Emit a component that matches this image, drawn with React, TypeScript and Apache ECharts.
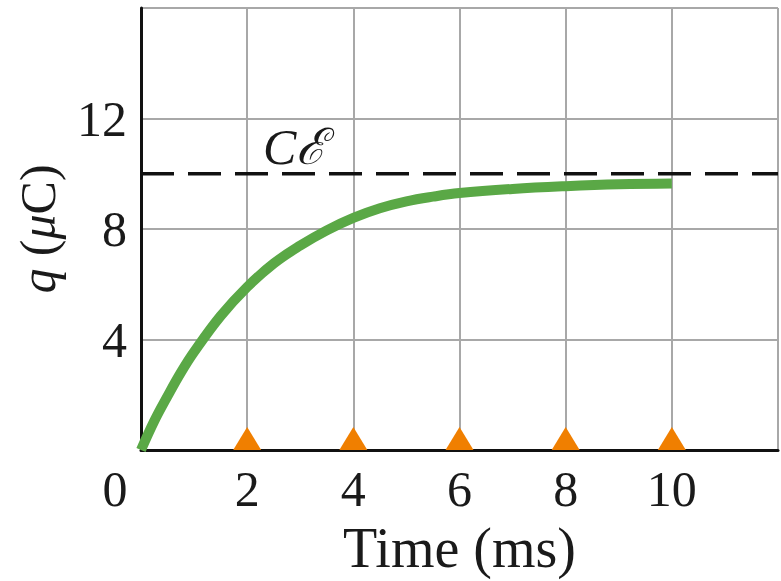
import React, { useEffect, useRef } from "react";
import * as echarts from "echarts";

const timeMs = [0, 0.25, 0.5, 0.75, 1, 1.5, 2, 2.5, 3, 3.5, 4, 4.5, 5, 5.5, 6, 7, 8, 9, 10];
const chargeUC = [0, 1.05, 1.95, 2.8, 3.55, 4.85, 5.9, 6.75, 7.4, 7.95, 8.4, 8.75, 9.0, 9.17, 9.3, 9.45, 9.55, 9.62, 9.65];
const limitLine = [[0, 10], [12, 10]];
const markerTimes = [2, 4, 6, 8, 10];
const xTicks = [0, 2, 4, 6, 8, 10];
const yTicks = [4, 8, 12];

const SERIF = "'Liberation Serif', 'DejaVu Serif', serif";

export default function App() {
  const ref = useRef<HTMLDivElement>(null);
  useEffect(() => {
    if (!ref.current) return;
    const chart = echarts.init(ref.current, undefined, { renderer: "svg" });
    chart.setOption({
      animation: false,
      backgroundColor: "#ffffff",
      grid: { left: 141, right: -4, top: 8, bottom: 126, containLabel: false },
      xAxis: {
        type: "value",
        min: 0,
        max: 12,
        interval: 2,
        name: "Time (ms)",
        nameLocation: "middle",
        nameGap: 70,
        nameTextStyle: { fontFamily: SERIF, fontSize: 56, color: "#1a1a1a" },
        axisLine: { show: true, lineStyle: { color: "#111", width: 3 } },
        axisTick: { show: false },
        splitLine: { show: true, lineStyle: { color: "#a8a8a8", width: 2 } },
        axisLabel: {
          margin: 14,
          fontFamily: SERIF,
          fontSize: 50,
          color: "#1a1a1a",
          formatter: (v: number) => {
            if (!xTicks.includes(v)) return "";
            if (v === 0) return "{z|0}";
            return String(v);
          },
          rich: { z: { fontFamily: SERIF, fontSize: 50, color: "#1a1a1a", padding: [0, 52, 0, 0] } },
        },
      },
      yAxis: {
        type: "value",
        min: 0,
        max: 16,
        interval: 4,
        name: "{i|q} ({i|μ}C)",
        nameLocation: "middle",
        nameRotate: 90,
        nameGap: 78,
        nameTextStyle: {
          fontFamily: SERIF,
          fontSize: 50,
          color: "#1a1a1a",
          rich: { i: { fontFamily: SERIF, fontSize: 50, fontStyle: "italic", color: "#1a1a1a" } },
        },
        axisLine: { show: true, lineStyle: { color: "#111", width: 3 } },
        axisTick: { show: false },
        splitLine: { show: true, lineStyle: { color: "#a8a8a8", width: 2 } },
        axisLabel: {
          margin: 14,
          fontFamily: SERIF,
          fontSize: 50,
          color: "#1a1a1a",
          formatter: (v: number) => (yTicks.includes(v) ? String(v) : ""),
        },
      },
      graphic: [
        {
          type: "text",
          left: 263,
          top: 122,
          style: {
            text: "Cℰ",
            fontFamily: SERIF,
            fontStyle: "italic",
            fontSize: 50,
            fill: "#1a1a1a",
          },
        },
      ],
      series: [
        {
          type: "line",
          data: timeMs.map((t, i) => [t, chargeUC[i]]),
          smooth: 0.4,
          showSymbol: false,
          lineStyle: { color: "#5aa846", width: 10, cap: "butt" },
          z: 3,
        },
        {
          type: "line",
          data: limitLine,
          showSymbol: false,
          lineStyle: { color: "#111", width: 3.5, type: [33, 14] },
          z: 4,
        },
        {
          type: "scatter",
          data: markerTimes.map((t) => [t, 0]),
          symbol: "triangle",
          symbolSize: [28, 23],
          symbolOffset: [0, "-50%"],
          itemStyle: { color: "#f07f00", opacity: 1 },
          clip: false,
          z: 5,
        },
      ],
    });
    return () => chart.dispose();
  }, []);
  return <div ref={ref} style={{ width: 781, height: 581, position: "absolute", left: 0, top: 0 }} />;
}
